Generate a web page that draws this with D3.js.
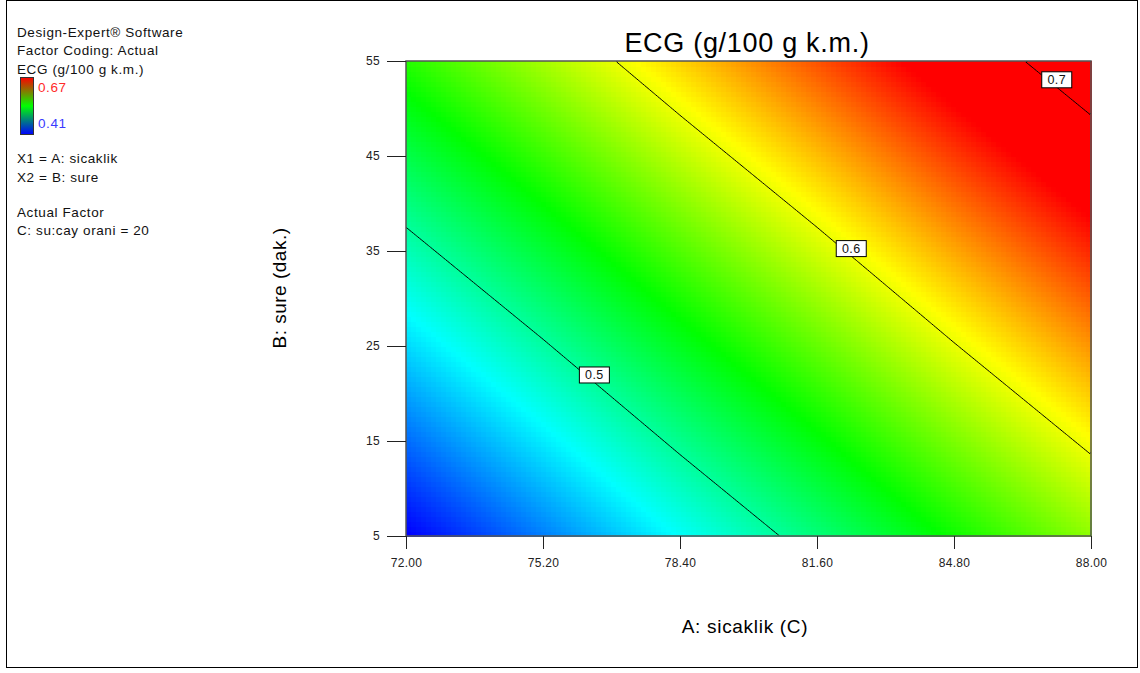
<!DOCTYPE html>
<html>
<head>
<meta charset="utf-8">
<script src="https://cdn.jsdelivr.net/npm/d3@7"></script>
<style>
  html, body { margin: 0; padding: 0; background: #fff; }
  svg { display: block; font-family: "Liberation Sans", Arial, sans-serif; }
</style>
</head>
<body>
<svg id="chart" width="1140" height="673"></svg>
<script>
// Factor A (sicaklik) and factor B (sure) tick values
const A_TICKS = [72.0, 75.2, 78.4, 81.6, 84.8, 88.0];
const B_TICKS = [5, 15, 25, 35, 45, 55];

// Predicted ECG (g/100 g k.m.) at each (B row, A column) tick crossing, C = 20
const ECG_B5  = [0.409, 0.442, 0.476, 0.509, 0.543, 0.576];
const ECG_B15 = [0.437, 0.470, 0.504, 0.537, 0.571, 0.604];
const ECG_B25 = [0.465, 0.498, 0.532, 0.565, 0.599, 0.632];
const ECG_B35 = [0.493, 0.526, 0.560, 0.593, 0.627, 0.660];
const ECG_B45 = [0.521, 0.554, 0.588, 0.621, 0.655, 0.688];
const ECG_B55 = [0.549, 0.582, 0.616, 0.649, 0.683, 0.716];
const ECG_GRID = [ECG_B5, ECG_B15, ECG_B25, ECG_B35, ECG_B45, ECG_B55];

// Contour levels and the A value where each level's label sits
const CONTOUR_LEVELS = [0.5, 0.6, 0.7];
const LABEL_AT_A = [76.4, 82.4, 87.2];

// Colour legend range of the response
const LEGEND_RANGE = [0.41, 0.67];

const svg = d3.select("#chart");

// Plot frame
const plot = { left: 406, right: 1091, top: 61, bottom: 536 };
const x = d3.scaleLinear().domain([A_TICKS[0], A_TICKS[A_TICKS.length - 1]]).range([plot.left, plot.right]);
const y = d3.scaleLinear().domain([B_TICKS[0], B_TICKS[B_TICKS.length - 1]]).range([plot.bottom, plot.top]);

// Blue -> cyan -> green -> yellow -> red ramp across the legend range
const lo = LEGEND_RANGE[0], hi = LEGEND_RANGE[1];
const color = d3.scaleLinear()
  .domain([lo, lo + (hi - lo) * 0.25, lo + (hi - lo) * 0.5, lo + (hi - lo) * 0.75, hi])
  .range(["#0000ff", "#00ffff", "#00ff00", "#ffff00", "#ff0000"])
  .clamp(true);

// Bilinear lookup on the tick grid
const aIdx = d3.scaleLinear().domain(d3.extent(A_TICKS)).range([0, A_TICKS.length - 1]).clamp(true);
const bIdx = d3.scaleLinear().domain(d3.extent(B_TICKS)).range([0, B_TICKS.length - 1]).clamp(true);
function ecg(a, b) {
  const fi = aIdx(a), fj = bIdx(b);
  const i0 = Math.min(Math.floor(fi), A_TICKS.length - 2), j0 = Math.min(Math.floor(fj), B_TICKS.length - 2);
  const u = fi - i0, v = fj - j0;
  const g = ECG_GRID;
  return (1 - u) * (1 - v) * g[j0][i0] + u * (1 - v) * g[j0][i0 + 1]
       + (1 - u) * v * g[j0 + 1][i0] + u * v * g[j0 + 1][i0 + 1];
}

// Colour field
const NX = 137, NY = 95;
const aStep = (x.domain()[1] - x.domain()[0]) / NX;
const bStep = (y.domain()[1] - y.domain()[0]) / NY;
const cells = [];
for (let j = 0; j < NY; j++) {
  for (let i = 0; i < NX; i++) {
    const a0 = x.domain()[0] + i * aStep, b0 = y.domain()[0] + j * bStep;
    cells.push({ a0, b0, val: ecg(a0 + aStep / 2, b0 + bStep / 2) });
  }
}
svg.append("g").attr("shape-rendering", "crispEdges")
  .selectAll("rect").data(cells).join("rect")
  .attr("x", d => x(d.a0))
  .attr("y", d => y(d.b0 + bStep))
  .attr("width", d => x(d.a0 + aStep) - x(d.a0) + 0.6)
  .attr("height", d => y(d.b0) - y(d.b0 + bStep) + 0.6)
  .attr("fill", d => color(d.val));

// Contour lines
const CX = 320, CY = 224;
const values = new Array(CX * CY);
for (let j = 0; j < CY; j++) {
  for (let i = 0; i < CX; i++) {
    const a = x.domain()[0] + (i + 0.5) / CX * (x.domain()[1] - x.domain()[0]);
    const b = y.domain()[0] + (j + 0.5) / CY * (y.domain()[1] - y.domain()[0]);
    values[j * CX + i] = ecg(a, b);
  }
}
const gx = d3.scaleLinear().domain([0, CX]).range(x.domain());
const gy = d3.scaleLinear().domain([0, CY]).range(y.domain());
const contours = d3.contours().size([CX, CY]).thresholds(CONTOUR_LEVELS)(values);
const onEdge = p => p[0] <= 1e-6 || p[0] >= CX - 1e-6 || p[1] <= 1e-6 || p[1] >= CY - 1e-6;
const sameEdge = (p, q) =>
  (p[0] <= 1e-6 && q[0] <= 1e-6) || (p[0] >= CX - 1e-6 && q[0] >= CX - 1e-6) ||
  (p[1] <= 1e-6 && q[1] <= 1e-6) || (p[1] >= CY - 1e-6 && q[1] >= CY - 1e-6);
svg.append("clipPath").attr("id", "plotClip").append("rect")
  .attr("x", plot.left).attr("y", plot.top)
  .attr("width", plot.right - plot.left).attr("height", plot.bottom - plot.top);
const lineG = svg.append("g").attr("clip-path", "url(#plotClip)");
contours.forEach(c => {
  const path = d3.path();
  c.coordinates.forEach(poly => poly.forEach(ring => {
    let penDown = false;
    for (let k = 1; k < ring.length; k++) {
      const p = ring[k - 1], q = ring[k];
      if (onEdge(p) && onEdge(q) && sameEdge(p, q)) { penDown = false; continue; }
      if (!penDown) { path.moveTo(x(gx(p[0])), y(gy(p[1]))); penDown = true; }
      path.lineTo(x(gx(q[0])), y(gy(q[1])));
    }
  }));
  lineG.append("path").attr("d", path.toString())
    .attr("fill", "none").attr("stroke", "#000").attr("stroke-width", 1);
});

// Contour labels, boxed and lifted just above their line
function levelB(level, a) {
  let b0 = y.domain()[0], b1 = y.domain()[1];
  for (let k = 0; k < 50; k++) {
    const m = (b0 + b1) / 2;
    if (ecg(a, m) < level) b0 = m; else b1 = m;
  }
  return (b0 + b1) / 2;
}
const labels = CONTOUR_LEVELS.map((lv, k) => ({ lv, a: LABEL_AT_A[k], b: levelB(lv, LABEL_AT_A[k]) }));
const lab = svg.append("g").selectAll("g").data(labels).join("g")
  .attr("transform", d => `translate(${x(d.a)},${y(d.b) - 7.5})`);
lab.append("rect").attr("x", -15).attr("y", -8).attr("width", 30).attr("height", 16)
  .attr("fill", "#fff").attr("stroke", "#000").attr("stroke-width", 1);
lab.append("text").attr("text-anchor", "middle").attr("y", 4.5)
  .attr("font-size", 12.5).attr("letter-spacing", 0.4).attr("fill", "#111")
  .text(d => d3.format(".1f")(d.lv));

// Plot border
svg.append("rect")
  .attr("x", plot.left).attr("y", plot.top)
  .attr("width", plot.right - plot.left).attr("height", plot.bottom - plot.top)
  .attr("fill", "none").attr("stroke", "#555").attr("stroke-width", 1.5);

// Axes
const yAxis = d3.axisLeft(y).tickValues(B_TICKS).tickSize(19).tickPadding(7).tickFormat(d3.format("d"));
const yg = svg.append("g").attr("transform", `translate(${plot.left},0)`).call(yAxis);
yg.select(".domain").remove();
yg.selectAll(".tick line").attr("stroke", "#222");
yg.selectAll(".tick text").attr("font-size", 12).attr("fill", "#222").attr("letter-spacing", 0.3)
  .attr("font-family", "'Liberation Sans', Arial, sans-serif");

const xAxis = d3.axisBottom(x).tickValues(A_TICKS).tickSize(13).tickPadding(9).tickFormat(d3.format(".2f"));
const xg = svg.append("g").attr("transform", `translate(0,${plot.bottom})`).call(xAxis);
xg.select(".domain").remove();
xg.selectAll(".tick line").attr("stroke", "#222");
xg.selectAll(".tick text").attr("font-size", 12).attr("fill", "#222").attr("letter-spacing", 0.3)
  .attr("font-family", "'Liberation Sans', Arial, sans-serif");

// Titles
svg.append("text").attr("x", 747).attr("y", 52).attr("text-anchor", "middle")
  .attr("font-size", 27).attr("letter-spacing", 0.7).attr("fill", "#000").text("ECG (g/100 g k.m.)");
svg.append("text").attr("x", 745).attr("y", 633).attr("text-anchor", "middle")
  .attr("font-size", 19).attr("letter-spacing", 0.7).attr("fill", "#000").text("A: sicaklik (C)");
svg.append("text").attr("transform", "translate(286,288) rotate(-90)").attr("text-anchor", "middle")
  .attr("font-size", 19).attr("letter-spacing", 0.5).attr("fill", "#000").text("B: sure (dak.)");

// Left information panel
const info = svg.append("g").attr("font-size", 13.5).attr("letter-spacing", 0.6).attr("fill", "#111");
[["Design-Expert® Software", 37], ["Factor Coding: Actual", 55.3], ["ECG (g/100 g k.m.)", 73.6],
 ["X1 = A: sicaklik", 163.3], ["X2 = B: sure", 181.6], ["Actual Factor", 216.7], ["C: su:cay orani = 20", 235]]
  .forEach(([t, yy]) => info.append("text").attr("x", 17).attr("y", yy).text(t));

const defs = svg.append("defs");
const grad = defs.append("linearGradient").attr("id", "legendGrad")
  .attr("x1", 0).attr("y1", 0).attr("x2", 0).attr("y2", 1);
grad.append("stop").attr("offset", "0%").attr("stop-color", "#ff0000");
grad.append("stop").attr("offset", "50%").attr("stop-color", "#00ff00");
grad.append("stop").attr("offset", "100%").attr("stop-color", "#0000ff");
svg.append("rect").attr("x", 20.5).attr("y", 77.5).attr("width", 13).attr("height", 57)
  .attr("fill", "url(#legendGrad)").attr("stroke", "#333").attr("stroke-width", 1);
svg.append("text").attr("x", 38).attr("y", 92).attr("font-size", 13.5).attr("letter-spacing", 0.6)
  .attr("fill", "#ff2a2a").text(d3.format(".2f")(LEGEND_RANGE[1]));
svg.append("text").attr("x", 38).attr("y", 128).attr("font-size", 13.5).attr("letter-spacing", 0.6)
  .attr("fill", "#3a3aff").text(d3.format(".2f")(LEGEND_RANGE[0]));

// Outer frame
svg.append("rect").attr("x", 6.5).attr("y", 0.5).attr("width", 1131).attr("height", 667)
  .attr("fill", "none").attr("stroke", "#000").attr("stroke-width", 1);
</script>
</body>
</html>
